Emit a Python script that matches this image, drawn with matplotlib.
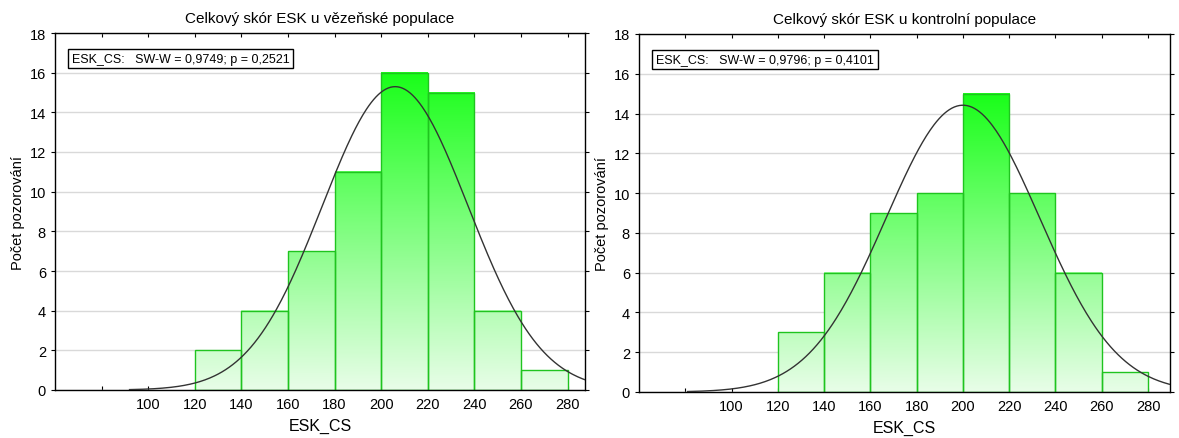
import numpy as np
import matplotlib
matplotlib.use("Agg")
import matplotlib.pyplot as plt
from matplotlib.colors import LinearSegmentedColormap

plt.rcParams['font.family'] = ['Liberation Sans', 'DejaVu Sans']

# data
bin_edges = [120, 140, 160, 180, 200, 220, 240, 260, 280]
counts_prison = [2, 4, 7, 11, 16, 15, 4, 1]
counts_control = [3, 6, 9, 10, 15, 10, 6, 1]
titles = ['Celkový skór ESK u vězeňské populace', 'Celkový skór ESK u kontrolní populace']
sw_texts = ['ESK_CS:   SW-W = 0,9749; p = 0,2521', 'ESK_CS:   SW-W = 0,9796; p = 0,4101']
# fitted normal curve parameters (estimated from the drawn curve)
fit_mean = [206, 200]
fit_sd = [31.3, 33.2]
curve_start = [92, 81]
xlims = [(60, 287.5), (60, 289.5)]
xticks = [80, 100, 120, 140, 160, 180, 200, 220, 240, 260, 280]
xticklabels = ['', '100', '120', '140', '160', '180', '200', '220', '240', '260', '280']
yticks = [0, 2, 4, 6, 8, 10, 12, 14, 16, 18]

green_cmap = LinearSegmentedColormap.from_list('grn', ['#e8fde8', '#1aff1a'])

fig = plt.figure(figsize=(11.79, 4.39), dpi=100)
W, H = 1179, 439
boxes = [(55, 34, 585, 391), (639, 35, 1170, 393)]


def draw_panel(ax, counts, i):
    ymax = max(counts)
    grad = np.linspace(0, 1, 200).reshape(-1, 1)
    for x0, x1, c in zip(bin_edges[:-1], bin_edges[1:], counts):
        g = grad * c
        ax.imshow(g, extent=[x0, x1, 0, c], origin='lower', aspect='auto',
                  cmap=green_cmap, vmin=0, vmax=ymax, zorder=1, interpolation='bilinear')
    ax.bar(bin_edges[:-1], counts, width=20, align='edge', facecolor='none',
           edgecolor='#1fc41f', linewidth=1, zorder=2)

    # normal fit
    n = sum(counts)
    bw = bin_edges[1] - bin_edges[0]
    xs = np.linspace(curve_start[i], 300, 400)
    ys = n * bw * np.exp(-0.5 * ((xs - fit_mean[i]) / fit_sd[i]) ** 2) / (fit_sd[i] * np.sqrt(2 * np.pi))
    ax.plot(xs, ys, color='#333333', linewidth=1, zorder=3)

    ax.set_xlim(*xlims[i])
    ax.set_ylim(0, 18)
    ax.set_xticks(xticks)
    ax.set_xticklabels(xticklabels)
    ax.set_yticks(yticks)
    ax.set_axisbelow(True)
    ax.yaxis.grid(True, color='#d9d9d9', linewidth=1)
    ax.tick_params(axis='x', direction='in', length=3, top=True, labelsize=10.5, pad=5)
    ax.tick_params(axis='y', direction='out', length=3, right=True, labelsize=10.5)
    for s in ax.spines.values():
        s.set_linewidth(1)

    ax.set_title(titles[i], fontsize=11, pad=8)
    ax.set_xlabel('ESK_CS', fontsize=11.5, labelpad=5)
    ax.set_ylabel('Počet pozorování', fontsize=10.5, labelpad=3)
    ax.text(0.032, 0.945, sw_texts[i], transform=ax.transAxes, fontsize=9,
            ha='left', va='top', zorder=5,
            bbox=dict(boxstyle='square,pad=0.3', facecolor='white', edgecolor='black', linewidth=1))


for i, counts in enumerate([counts_prison, counts_control]):
    l, t, r, b = boxes[i]
    ax = fig.add_axes([l / W, 1 - b / H, (r - l) / W, (b - t) / H])
    draw_panel(ax, counts, i)

fig.savefig('out.png', dpi=100)
